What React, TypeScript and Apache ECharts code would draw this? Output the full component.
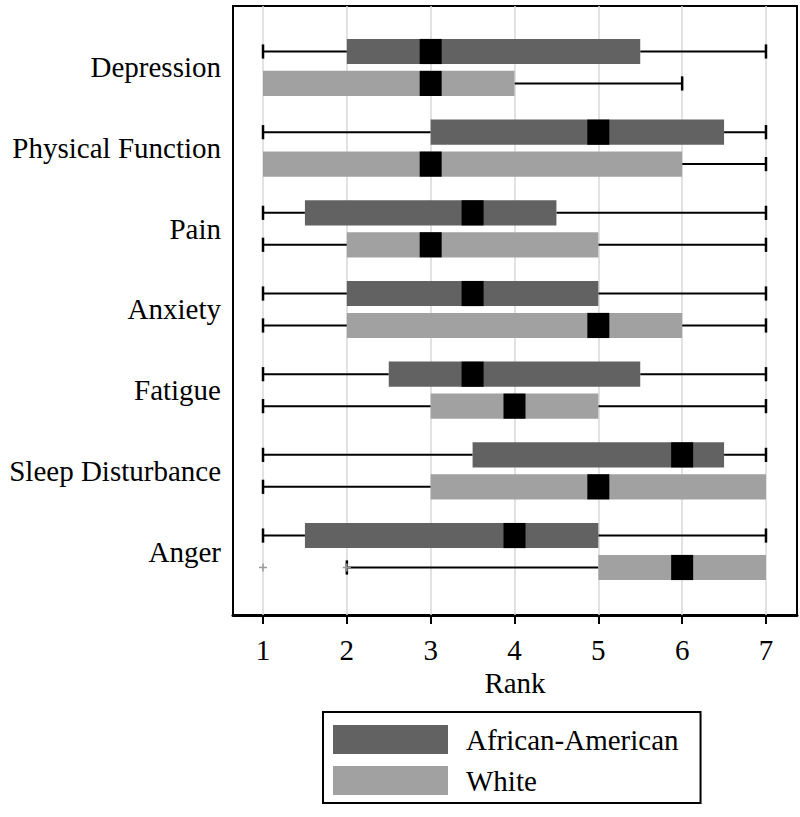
import React, { useEffect, useRef } from "react";
import * as echarts from "echarts";

const categories = ["Depression", "Physical Function", "Pain", "Anxiety", "Fatigue", "Sleep Disturbance", "Anger"];
const seriesNames = ["African-American", "White"];

// African-American: lower whisker, Q1, median, Q3, upper whisker
const aaLow = [1, 1, 1, 1, 1, 1, 1];
const aaQ1 = [2, 3, 1.5, 2, 2.5, 3.5, 1.5];
const aaMed = [3, 5, 3.5, 3.5, 3.5, 6, 4];
const aaQ3 = [5.5, 6.5, 4.5, 5, 5.5, 6.5, 5];
const aaHigh = [7, 7, 7, 7, 7, 7, 7];

// White
const whLow = [1, 1, 1, 1, 1, 1, 2];
const whQ1 = [1, 1, 2, 2, 3, 3, 5];
const whMed = [3, 3, 3, 5, 4, 5, 6];
const whQ3 = [4, 6, 5, 6, 5, 7, 7];
const whHigh = [6, 7, 7, 7, 7, 7, 7];
const whOutliers = [[], [], [], [], [], [], [1, 2]];
const aaOutliers = [[], [], [], [], [], [], []];

const xTicks = [1, 2, 3, 4, 5, 6, 7];
const yPositions = [1, 2, 3, 4, 5, 6, 7];

const FONT = "Liberation Serif";
const FS = 29;

function makeRender(offset: number, color: string, outliers: number[][]) {
  return (params: any, api: any) => {
    const idx = api.value(0);
    const lo = api.value(1);
    const q1 = api.value(2);
    const med = api.value(3);
    const q3 = api.value(4);
    const hi = api.value(5);
    const yc = idx + offset;
    const unitY = api.size([0, 1])[1];
    const boxHalf = 0.156 * unitY;
    const capHalf = 0.088 * unitY;
    const medHalf = 11;
    const pLo = api.coord([lo, yc]);
    const pQ1 = api.coord([q1, yc]);
    const pMed = api.coord([med, yc]);
    const pQ3 = api.coord([q3, yc]);
    const pHi = api.coord([hi, yc]);
    const y = pMed[1];
    const children: any[] = [];
    const lineStyle = { stroke: "#000", lineWidth: 2 };
    if (lo < q1) {
      children.push({ type: "line", shape: { x1: pLo[0], y1: y, x2: pQ1[0], y2: y }, style: lineStyle });
      children.push({ type: "line", shape: { x1: pLo[0], y1: y - capHalf, x2: pLo[0], y2: y + capHalf }, style: { stroke: "#000", lineWidth: 2.5 } });
    }
    if (hi > q3) {
      children.push({ type: "line", shape: { x1: pQ3[0], y1: y, x2: pHi[0], y2: y }, style: lineStyle });
      children.push({ type: "line", shape: { x1: pHi[0], y1: y - capHalf, x2: pHi[0], y2: y + capHalf }, style: { stroke: "#000", lineWidth: 2.5 } });
    }
    children.push({ type: "rect", shape: { x: pQ1[0], y: y - boxHalf, width: pQ3[0] - pQ1[0], height: boxHalf * 2 }, style: { fill: color } });
    children.push({ type: "rect", shape: { x: pMed[0] - medHalf, y: y - boxHalf, width: medHalf * 2, height: boxHalf * 2 }, style: { fill: "#000" } });
    (outliers[params.dataIndex] || []).forEach((v) => {
      const p = api.coord([v, yc]);
      children.push({ type: "line", shape: { x1: p[0] - 4, y1: y, x2: p[0] + 4, y2: y }, style: { stroke: "#999", lineWidth: 1.5 } });
      children.push({ type: "line", shape: { x1: p[0], y1: y - 4, x2: p[0], y2: y + 4 }, style: { stroke: "#999", lineWidth: 1.5 } });
    });
    return { type: "group", children };
  };
}

export default function App() {
  const ref = useRef<HTMLDivElement>(null);
  useEffect(() => {
    if (!ref.current) return;
    const chart = echarts.init(ref.current, null, { renderer: "svg" });
    const aaData = yPositions.map((p, i) => [p, aaLow[i], aaQ1[i], aaMed[i], aaQ3[i], aaHigh[i]]);
    const whData = yPositions.map((p, i) => [p, whLow[i], whQ1[i], whMed[i], whQ3[i], whHigh[i]]);
    const option: any = {
      animation: false,
      backgroundColor: "#fff",
      textStyle: { fontFamily: FONT },
      grid: {
        left: 233,
        right: 3,
        top: 6,
        bottom: 202,
        show: true,
        borderColor: "#000",
        borderWidth: 2,
        backgroundColor: "transparent",
      },
      xAxis: {
        type: "value",
        min: 0.642,
        max: 7.37,
        name: "Rank",
        nameLocation: "middle",
        nameGap: 51,
        nameTextStyle: { fontSize: FS, fontFamily: FONT, color: "#000" },
        axisLine: { show: true, lineStyle: { color: "#000", width: 3 } },
        axisTick: { show: true, customValues: xTicks, length: 9, lineStyle: { color: "#000", width: 2 } },
        axisLabel: { customValues: xTicks, fontSize: FS, fontFamily: FONT, color: "#000", margin: 20 },
        splitLine: { show: false },
      },
      yAxis: {
        type: "value",
        inverse: true,
        min: 0.238,
        max: 7.787,
        axisLine: { show: false },
        axisTick: { show: false },
        splitLine: { show: false },
        axisLabel: {
          customValues: yPositions,
          formatter: (v: number) => categories[Math.round(v) - 1] || "",
          fontSize: FS,
          fontFamily: FONT,
          color: "#000",
          margin: 12,
        },
      },
      legend: {
        data: seriesNames,
        orient: "vertical",
        left: 323,
        top: 712,
        icon: "rect",
        itemWidth: 115,
        itemHeight: 29,
        itemGap: 12,
        padding: [13, 22, 8, 10],
        borderColor: "#000",
        borderWidth: 2,
        textStyle: { fontSize: FS, fontFamily: FONT, color: "#000", padding: [0, 0, 0, 13] },
      },
      series: [
        {
          type: "line",
          name: "grid",
          data: [],
          z: 1,
          silent: true,
          markLine: {
            silent: true,
            symbol: "none",
            z: 1,
            label: { show: false },
            lineStyle: { color: "#d9d9d9", width: 1.5, type: "solid" },
            data: xTicks.map((v) => ({ xAxis: v })),
          },
        },
        {
          type: "custom",
          name: seriesNames[0],
          z: 3,
          itemStyle: { color: "#626262" },
          renderItem: makeRender(-0.198, "#626262", aaOutliers),
          encode: { x: [1, 2, 3, 4, 5], y: 0 },
          data: aaData,
        },
        {
          type: "custom",
          name: seriesNames[1],
          z: 3,
          itemStyle: { color: "#a1a1a1" },
          renderItem: makeRender(0.198, "#a1a1a1", whOutliers),
          encode: { x: [1, 2, 3, 4, 5], y: 0 },
          data: whData,
        },
      ],
    };
    chart.setOption(option);
    return () => chart.dispose();
  }, []);
  return (
    <>
      <style>{`.chart-box svg text, .chart-box svg tspan { font-family: 'Liberation Serif', serif !important; }`}</style>
      <div className="chart-box" ref={ref} style={{ position: "fixed", left: 0, top: 0, width: 800, height: 817 }} />
    </>
  );
}
